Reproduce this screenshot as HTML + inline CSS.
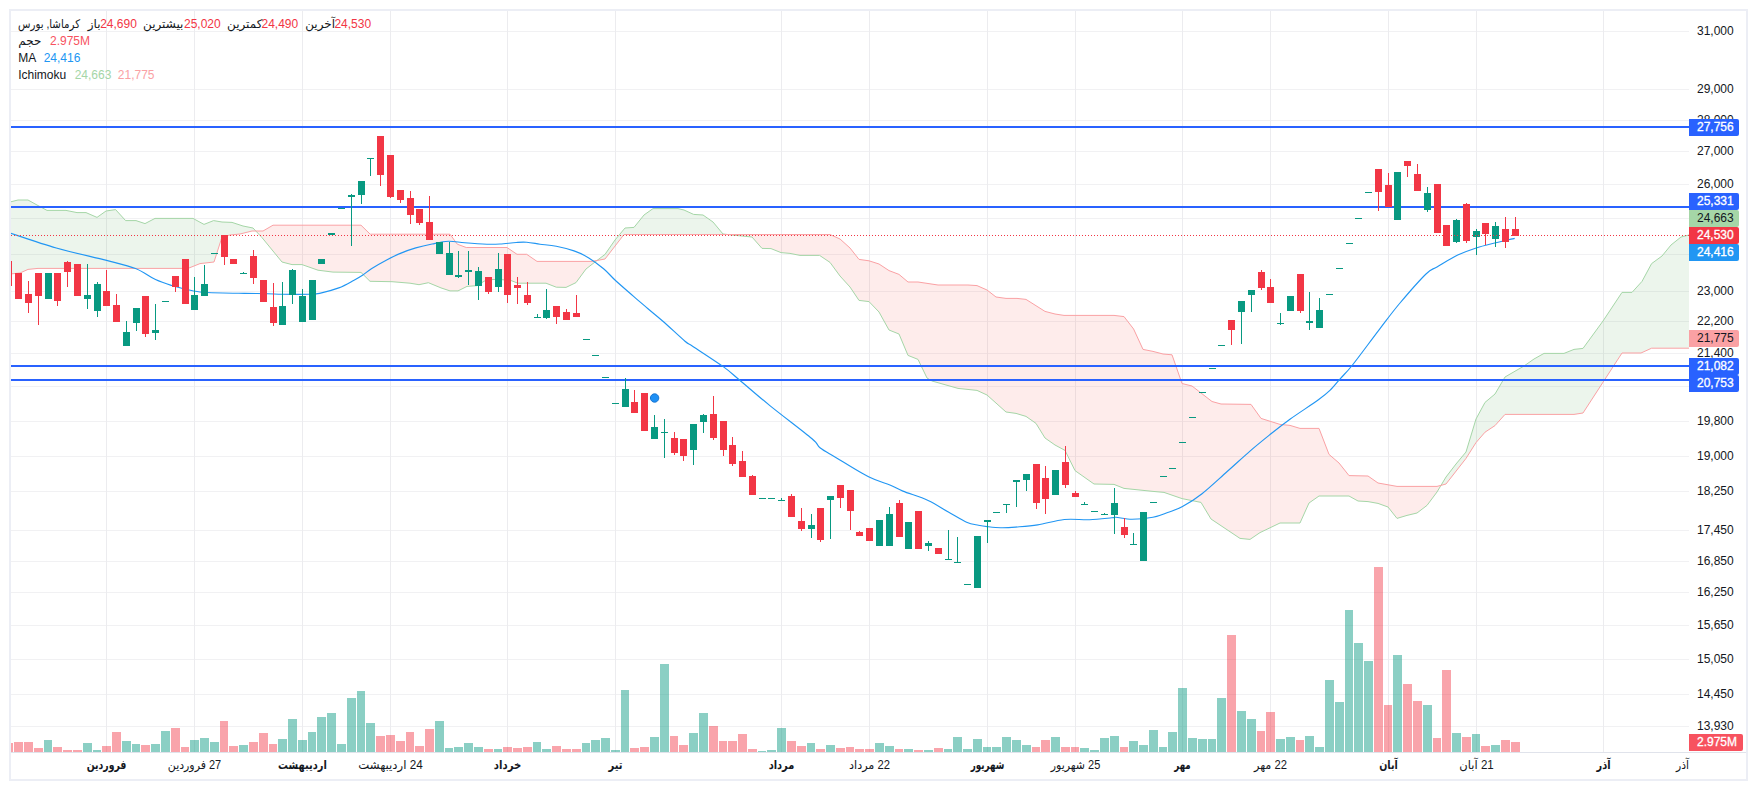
<!DOCTYPE html>
<html lang="fa"><head><meta charset="utf-8"><title>chart</title>
<style>
html,body{margin:0;padding:0;background:#fff;}
body{width:1757px;height:790px;position:relative;overflow:hidden;font-family:"Liberation Sans","DejaVu Sans",sans-serif;}
.lg{position:absolute;font-size:12px;line-height:14px;white-space:nowrap;transform-origin:0 50%;}
</style></head><body>
<svg width="1757" height="790" viewBox="0 0 1757 790" style="position:absolute;left:0;top:0">
<defs><clipPath id="pane"><rect x="11" y="11" width="1678" height="741"/></clipPath></defs>
<g shape-rendering="crispEdges" fill="#f1f1f3">
<rect x="11" y="31" width="1678" height="1"/>
<rect x="11" y="89" width="1678" height="1"/>
<rect x="11" y="120" width="1678" height="1"/>
<rect x="11" y="151" width="1678" height="1"/>
<rect x="11" y="184" width="1678" height="1"/>
<rect x="11" y="218" width="1678" height="1"/>
<rect x="11" y="254" width="1678" height="1"/>
<rect x="11" y="291" width="1678" height="1"/>
<rect x="11" y="321" width="1678" height="1"/>
<rect x="11" y="353" width="1678" height="1"/>
<rect x="11" y="386" width="1678" height="1"/>
<rect x="11" y="421" width="1678" height="1"/>
<rect x="11" y="456" width="1678" height="1"/>
<rect x="11" y="491" width="1678" height="1"/>
<rect x="11" y="530" width="1678" height="1"/>
<rect x="11" y="561" width="1678" height="1"/>
<rect x="11" y="592" width="1678" height="1"/>
<rect x="11" y="625" width="1678" height="1"/>
<rect x="11" y="659" width="1678" height="1"/>
<rect x="11" y="694" width="1678" height="1"/>
<rect x="11" y="726" width="1678" height="1"/>
<rect x="106" y="11" width="1" height="741" fill="#ececef"/>
<rect x="194" y="11" width="1" height="741" fill="#ececef"/>
<rect x="302" y="11" width="1" height="741" fill="#ececef"/>
<rect x="390" y="11" width="1" height="741" fill="#ececef"/>
<rect x="507" y="11" width="1" height="741" fill="#ececef"/>
<rect x="615" y="11" width="1" height="741" fill="#ececef"/>
<rect x="781" y="11" width="1" height="741" fill="#ececef"/>
<rect x="869" y="11" width="1" height="741" fill="#ececef"/>
<rect x="987" y="11" width="1" height="741" fill="#ececef"/>
<rect x="1075" y="11" width="1" height="741" fill="#ececef"/>
<rect x="1182" y="11" width="1" height="741" fill="#ececef"/>
<rect x="1270" y="11" width="1" height="741" fill="#ececef"/>
<rect x="1388" y="11" width="1" height="741" fill="#ececef"/>
<rect x="1476" y="11" width="1" height="741" fill="#ececef"/>
<rect x="1603" y="11" width="1" height="741" fill="#ececef"/>
</g>
<g clip-path="url(#pane)">
<path d="M10.0 202.0 L18.0 200.0 L20.0 200.0 L28.0 200.0 L37.0 205.0 L38.0 205.5 L47.0 210.4 L66.0 210.4 L77.0 212.6 L86.0 212.6 L97.0 217.4 L106.0 211.0 L115.6 209.6 L125.6 220.6 L136.0 220.6 L145.0 223.6 L155.0 218.4 L188.0 218.4 L193.0 218.4 L200.0 222.2 L204.0 224.4 L213.6 220.6 L214.0 220.7 L222.0 222.0 L230.0 222.3 L232.0 222.4 L240.0 225.0 L243.0 226.0 L252.0 227.8 L253.0 228.0 L255.8 231.0 L255.8 231.0 L253.0 231.0 L252.0 231.0 L243.0 233.2 L240.0 234.0 L232.0 234.8 L230.0 235.0 L222.0 237.0 L214.0 262.0 L213.6 262.0 L204.0 263.1 L200.0 263.6 L193.0 266.4 L188.0 268.4 L155.0 268.4 L145.0 268.4 L136.0 268.4 L125.6 268.4 L115.6 268.4 L106.0 268.4 L97.0 268.4 L86.0 268.4 L77.0 268.4 L66.0 268.4 L47.0 268.4 L38.0 268.4 L37.0 268.5 L28.0 269.4 L20.0 273.0 L18.0 273.2 L10.0 274.0Z" fill="rgba(67,160,71,0.1)"/>
<path d="M255.8 231.0 L262.0 237.6 L263.0 238.8 L273.0 251.0 L282.0 262.0 L292.0 264.6 L302.0 264.6 L318.0 270.2 L333.0 272.1 L361.0 272.4 L370.0 281.3 L370.2 281.3 L392.0 281.7 L410.0 283.2 L419.0 284.7 L428.4 282.7 L441.0 287.9 L450.0 290.9 L457.3 290.9 L458.0 290.9 L466.2 286.8 L467.0 286.4 L476.5 285.7 L485.4 280.5 L493.0 279.5 L500.0 279.5 L507.0 280.1 L511.0 280.5 L517.0 282.9 L517.8 283.2 L526.7 283.2 L537.0 283.2 L546.0 283.2 L556.3 287.2 L566.0 287.4 L576.0 282.6 L586.0 269.0 L592.0 264.3 L595.0 262.0 L597.0 260.5 L597.0 260.5 L595.0 260.8 L592.0 261.4 L586.0 261.4 L576.0 261.4 L566.0 261.4 L556.3 261.4 L546.0 261.4 L537.0 261.4 L526.7 254.3 L517.8 254.3 L517.0 254.3 L511.0 250.2 L507.0 247.5 L500.0 247.5 L493.0 247.5 L485.4 247.5 L476.5 247.5 L467.0 247.5 L466.2 247.5 L458.0 244.5 L457.3 244.2 L450.0 234.2 L441.0 234.2 L428.4 234.2 L419.0 234.2 L410.0 234.2 L392.0 234.2 L370.2 234.2 L370.0 234.0 L361.0 225.2 L333.0 225.2 L318.0 225.2 L302.0 225.2 L292.0 225.2 L282.0 225.2 L273.0 225.2 L263.0 231.0 L262.0 231.0 L255.8 231.0Z" fill="rgba(244,67,54,0.1)"/>
<path d="M597.0 260.5 L605.0 254.4 L615.0 240.0 L624.0 229.2 L625.0 228.0 L634.0 227.4 L644.0 215.0 L653.0 208.6 L678.0 208.6 L684.0 210.0 L693.6 214.4 L703.0 215.0 L713.0 222.0 L723.0 234.0 L727.5 234.5 L727.5 234.5 L723.0 234.5 L713.0 234.5 L703.0 234.5 L693.6 234.5 L684.0 234.5 L678.0 234.5 L653.0 234.5 L644.0 234.5 L634.0 234.5 L625.0 234.5 L624.0 234.5 L615.0 246.1 L605.0 259.0 L597.0 260.5Z" fill="rgba(67,160,71,0.1)"/>
<path d="M727.5 234.5 L732.0 235.0 L752.0 237.0 L762.0 248.4 L771.0 248.6 L781.0 252.6 L790.0 253.4 L800.0 255.4 L819.6 255.4 L830.0 262.4 L840.0 276.0 L850.0 287.0 L859.0 300.4 L869.0 301.6 L879.0 312.0 L889.0 330.0 L899.0 334.0 L908.0 355.4 L918.0 359.4 L927.0 378.0 L932.0 381.0 L938.0 382.7 L958.0 388.4 L968.0 389.5 L977.0 390.4 L987.0 395.0 L996.0 403.1 L1006.0 412.0 L1016.0 413.4 L1017.0 413.7 L1026.0 416.4 L1036.0 423.4 L1045.0 438.0 L1055.0 445.0 L1064.0 449.9 L1065.0 450.4 L1075.0 470.6 L1094.0 484.0 L1114.0 484.4 L1124.0 488.4 L1133.6 489.4 L1143.0 490.4 L1153.0 491.4 L1163.0 492.3 L1164.0 492.4 L1172.0 495.2 L1182.0 498.6 L1192.0 500.6 L1201.0 502.4 L1211.0 519.0 L1212.0 519.7 L1221.0 525.7 L1240.0 538.4 L1250.0 539.4 L1251.0 538.7 L1260.0 532.6 L1261.0 532.1 L1280.0 523.0 L1290.0 523.0 L1300.0 523.0 L1309.0 503.0 L1319.0 496.0 L1329.0 496.0 L1339.0 496.0 L1349.0 496.0 L1358.0 501.0 L1368.0 501.6 L1378.0 503.4 L1388.0 507.0 L1397.0 518.4 L1407.0 515.4 L1417.0 513.0 L1427.0 505.4 L1437.0 492.0 L1441.0 485.3 L1441.0 485.3 L1437.0 486.4 L1427.0 486.4 L1417.0 486.4 L1407.0 486.4 L1397.0 486.4 L1388.0 484.8 L1378.0 483.0 L1368.0 476.0 L1358.0 475.8 L1349.0 475.6 L1339.0 463.0 L1329.0 454.4 L1319.0 428.4 L1309.0 428.4 L1300.0 428.4 L1290.0 425.4 L1280.0 424.4 L1261.0 418.4 L1260.0 417.0 L1251.0 404.4 L1250.0 404.4 L1240.0 404.3 L1221.0 404.0 L1212.0 401.5 L1211.0 400.7 L1201.0 393.0 L1192.0 386.0 L1182.0 383.5 L1172.0 354.8 L1164.0 354.1 L1163.0 354.0 L1153.0 351.4 L1143.0 349.4 L1133.6 329.0 L1124.0 316.6 L1114.0 315.4 L1094.0 315.4 L1075.0 315.4 L1065.0 315.4 L1064.0 315.4 L1055.0 314.0 L1045.0 311.4 L1036.0 305.7 L1026.0 299.4 L1017.0 298.4 L1016.0 298.4 L1006.0 298.4 L996.0 297.0 L987.0 290.0 L977.0 285.6 L968.0 285.0 L958.0 285.0 L938.0 285.0 L932.0 284.1 L927.0 283.4 L918.0 282.0 L908.0 282.0 L899.0 274.4 L889.0 270.6 L879.0 264.0 L869.0 260.8 L859.0 259.4 L850.0 248.0 L840.0 239.0 L830.0 234.5 L819.6 234.5 L800.0 234.5 L790.0 234.5 L781.0 234.5 L771.0 234.5 L762.0 234.5 L752.0 234.5 L732.0 234.5 L727.5 234.5Z" fill="rgba(244,67,54,0.1)"/>
<path d="M1441.0 485.3 L1446.0 477.0 L1456.0 464.0 L1466.0 452.0 L1476.0 419.0 L1485.0 402.4 L1495.0 394.0 L1505.0 377.0 L1524.0 366.0 L1534.0 359.0 L1544.0 353.4 L1564.0 353.4 L1574.0 349.4 L1583.0 348.4 L1603.0 321.0 L1622.0 292.4 L1632.0 292.4 L1641.0 282.5 L1642.0 281.4 L1651.6 263.6 L1662.0 256.0 L1671.0 245.0 L1681.0 237.0 L1689.0 235.0 L1689.0 348.2 L1681.0 348.2 L1671.0 348.2 L1662.0 348.2 L1651.6 348.2 L1642.0 352.5 L1641.0 353.0 L1632.0 353.0 L1622.0 353.0 L1603.0 382.2 L1583.0 413.0 L1574.0 414.4 L1564.0 414.4 L1544.0 414.4 L1534.0 414.4 L1524.0 414.4 L1505.0 414.4 L1495.0 425.6 L1485.0 432.2 L1476.0 442.6 L1466.0 458.4 L1456.0 471.2 L1446.0 484.0 L1441.0 485.3Z" fill="rgba(67,160,71,0.1)"/>
<polyline fill="none" stroke="#a5d6a7" stroke-width="1" stroke-linejoin="round" points="10.0,202.0 18.0,200.0 28.0,200.0 37.0,205.0 47.0,210.4 66.0,210.4 77.0,212.6 86.0,212.6 97.0,217.4 106.0,211.0 115.6,209.6 125.6,220.6 136.0,220.6 145.0,223.6 155.0,218.4 193.0,218.4 204.0,224.4 213.6,220.6 222.0,222.0 232.0,222.4 243.0,226.0 253.0,228.0 262.0,237.6 282.0,262.0 292.0,264.6 302.0,264.6 318.0,270.2 333.0,272.1 361.0,272.4 370.0,281.3 392.0,281.7 410.0,283.2 419.0,284.7 428.4,282.7 441.0,287.9 450.0,290.9 458.0,290.9 467.0,286.4 476.5,285.7 485.4,280.5 493.0,279.5 500.0,279.5 511.0,280.5 517.8,283.2 546.0,283.2 556.3,287.2 566.0,287.4 576.0,282.6 586.0,269.0 595.0,262.0 605.0,254.4 615.0,240.0 625.0,228.0 634.0,227.4 644.0,215.0 653.0,208.6 678.0,208.6 684.0,210.0 693.6,214.4 703.0,215.0 713.0,222.0 723.0,234.0 732.0,235.0 752.0,237.0 762.0,248.4 771.0,248.6 781.0,252.6 790.0,253.4 800.0,255.4 819.6,255.4 830.0,262.4 840.0,276.0 850.0,287.0 859.0,300.4 869.0,301.6 879.0,312.0 889.0,330.0 899.0,334.0 908.0,355.4 918.0,359.4 927.0,378.0 932.0,381.0 958.0,388.4 977.0,390.4 987.0,395.0 1006.0,412.0 1016.0,413.4 1026.0,416.4 1036.0,423.4 1045.0,438.0 1055.0,445.0 1065.0,450.4 1075.0,470.6 1094.0,484.0 1114.0,484.4 1124.0,488.4 1153.0,491.4 1164.0,492.4 1182.0,498.6 1201.0,502.4 1211.0,519.0 1240.0,538.4 1250.0,539.4 1260.0,532.6 1280.0,523.0 1300.0,523.0 1309.0,503.0 1319.0,496.0 1349.0,496.0 1358.0,501.0 1368.0,501.6 1378.0,503.4 1388.0,507.0 1397.0,518.4 1407.0,515.4 1417.0,513.0 1427.0,505.4 1437.0,492.0 1446.0,477.0 1456.0,464.0 1466.0,452.0 1476.0,419.0 1485.0,402.4 1495.0,394.0 1505.0,377.0 1524.0,366.0 1534.0,359.0 1544.0,353.4 1564.0,353.4 1574.0,349.4 1583.0,348.4 1603.0,321.0 1622.0,292.4 1632.0,292.4 1642.0,281.4 1651.6,263.6 1662.0,256.0 1671.0,245.0 1681.0,237.0 1689.0,235.0"/>
<polyline fill="none" stroke="#faa1a4" stroke-width="1" stroke-linejoin="round" points="10.0,274.0 20.0,273.0 28.0,269.4 38.0,268.4 188.0,268.4 200.0,263.6 214.0,262.0 222.0,237.0 230.0,235.0 240.0,234.0 252.0,231.0 263.0,231.0 273.0,225.2 361.0,225.2 370.2,234.2 450.0,234.2 457.3,244.2 466.2,247.5 507.0,247.5 517.0,254.3 526.7,254.3 537.0,261.4 592.0,261.4 605.0,259.0 624.0,234.5 830.0,234.5 840.0,239.0 850.0,248.0 859.0,259.4 869.0,260.8 879.0,264.0 889.0,270.6 899.0,274.4 908.0,282.0 918.0,282.0 938.0,285.0 968.0,285.0 977.0,285.6 987.0,290.0 996.0,297.0 1006.0,298.4 1017.0,298.4 1026.0,299.4 1045.0,311.4 1055.0,314.0 1064.0,315.4 1114.0,315.4 1124.0,316.6 1133.6,329.0 1143.0,349.4 1153.0,351.4 1163.0,354.0 1172.0,354.8 1182.0,383.5 1192.0,386.0 1212.0,401.5 1221.0,404.0 1251.0,404.4 1261.0,418.4 1280.0,424.4 1290.0,425.4 1300.0,428.4 1319.0,428.4 1329.0,454.4 1339.0,463.0 1349.0,475.6 1368.0,476.0 1378.0,483.0 1397.0,486.4 1437.0,486.4 1446.0,484.0 1466.0,458.4 1476.0,442.6 1485.0,432.2 1495.0,425.6 1505.0,414.4 1574.0,414.4 1583.0,413.0 1622.0,353.0 1641.0,353.0 1651.6,348.2 1689.0,348.2"/>
<g shape-rendering="crispEdges">
<rect x="4" y="743" width="9" height="9" fill="rgba(242,54,69,0.45)"/>
<rect x="14" y="742" width="9" height="10" fill="rgba(242,54,69,0.45)"/>
<rect x="24" y="742" width="9" height="10" fill="rgba(242,54,69,0.45)"/>
<rect x="34" y="748" width="9" height="4" fill="rgba(242,54,69,0.45)"/>
<rect x="44" y="740" width="8" height="12" fill="rgba(8,153,129,0.47)"/>
<rect x="53" y="747" width="9" height="5" fill="rgba(242,54,69,0.45)"/>
<rect x="63" y="750" width="9" height="2" fill="rgba(242,54,69,0.45)"/>
<rect x="73" y="750" width="9" height="2" fill="rgba(242,54,69,0.45)"/>
<rect x="83" y="743" width="9" height="9" fill="rgba(8,153,129,0.47)"/>
<rect x="93" y="750" width="8" height="2" fill="rgba(8,153,129,0.47)"/>
<rect x="102" y="746" width="9" height="6" fill="rgba(242,54,69,0.45)"/>
<rect x="112" y="732" width="9" height="20" fill="rgba(242,54,69,0.45)"/>
<rect x="122" y="741" width="9" height="11" fill="rgba(8,153,129,0.47)"/>
<rect x="132" y="744" width="8" height="8" fill="rgba(8,153,129,0.47)"/>
<rect x="141" y="745" width="9" height="7" fill="rgba(242,54,69,0.45)"/>
<rect x="151" y="744" width="9" height="8" fill="rgba(8,153,129,0.47)"/>
<rect x="161" y="731" width="9" height="21" fill="rgba(8,153,129,0.47)"/>
<rect x="171" y="728" width="9" height="24" fill="rgba(242,54,69,0.45)"/>
<rect x="181" y="747" width="8" height="5" fill="rgba(242,54,69,0.45)"/>
<rect x="190" y="740" width="9" height="12" fill="rgba(8,153,129,0.47)"/>
<rect x="200" y="738" width="9" height="14" fill="rgba(8,153,129,0.47)"/>
<rect x="210" y="742" width="9" height="10" fill="rgba(8,153,129,0.47)"/>
<rect x="220" y="721" width="8" height="31" fill="rgba(242,54,69,0.45)"/>
<rect x="229" y="746" width="9" height="6" fill="rgba(242,54,69,0.45)"/>
<rect x="239" y="745" width="9" height="7" fill="rgba(8,153,129,0.47)"/>
<rect x="249" y="742" width="9" height="10" fill="rgba(242,54,69,0.45)"/>
<rect x="259" y="733" width="9" height="19" fill="rgba(242,54,69,0.45)"/>
<rect x="269" y="744" width="8" height="8" fill="rgba(242,54,69,0.45)"/>
<rect x="278" y="739" width="9" height="13" fill="rgba(8,153,129,0.47)"/>
<rect x="288" y="719" width="9" height="33" fill="rgba(8,153,129,0.47)"/>
<rect x="298" y="740" width="9" height="12" fill="rgba(8,153,129,0.47)"/>
<rect x="308" y="732" width="8" height="20" fill="rgba(8,153,129,0.47)"/>
<rect x="317" y="717" width="9" height="35" fill="rgba(8,153,129,0.47)"/>
<rect x="327" y="713" width="9" height="39" fill="rgba(8,153,129,0.47)"/>
<rect x="337" y="744" width="9" height="8" fill="rgba(8,153,129,0.47)"/>
<rect x="347" y="698" width="9" height="54" fill="rgba(8,153,129,0.47)"/>
<rect x="357" y="691" width="8" height="61" fill="rgba(8,153,129,0.47)"/>
<rect x="366" y="723" width="9" height="29" fill="rgba(8,153,129,0.47)"/>
<rect x="376" y="736" width="9" height="16" fill="rgba(242,54,69,0.45)"/>
<rect x="386" y="735" width="9" height="17" fill="rgba(242,54,69,0.45)"/>
<rect x="396" y="741" width="9" height="11" fill="rgba(242,54,69,0.45)"/>
<rect x="406" y="732" width="8" height="20" fill="rgba(242,54,69,0.45)"/>
<rect x="415" y="746" width="9" height="6" fill="rgba(242,54,69,0.45)"/>
<rect x="425" y="729" width="9" height="23" fill="rgba(242,54,69,0.45)"/>
<rect x="435" y="721" width="9" height="31" fill="rgba(8,153,129,0.47)"/>
<rect x="445" y="748" width="8" height="4" fill="rgba(8,153,129,0.47)"/>
<rect x="454" y="747" width="9" height="5" fill="rgba(8,153,129,0.47)"/>
<rect x="464" y="743" width="9" height="9" fill="rgba(8,153,129,0.47)"/>
<rect x="474" y="747" width="9" height="5" fill="rgba(8,153,129,0.47)"/>
<rect x="484" y="749" width="9" height="3" fill="rgba(242,54,69,0.45)"/>
<rect x="494" y="749" width="8" height="3" fill="rgba(8,153,129,0.47)"/>
<rect x="503" y="747" width="9" height="5" fill="rgba(242,54,69,0.45)"/>
<rect x="513" y="748" width="9" height="4" fill="rgba(242,54,69,0.45)"/>
<rect x="523" y="747" width="9" height="5" fill="rgba(242,54,69,0.45)"/>
<rect x="533" y="742" width="8" height="10" fill="rgba(8,153,129,0.47)"/>
<rect x="542" y="749" width="9" height="3" fill="rgba(8,153,129,0.47)"/>
<rect x="552" y="746" width="9" height="6" fill="rgba(242,54,69,0.45)"/>
<rect x="562" y="749" width="9" height="3" fill="rgba(242,54,69,0.45)"/>
<rect x="572" y="749" width="9" height="3" fill="rgba(242,54,69,0.45)"/>
<rect x="582" y="743" width="8" height="9" fill="rgba(8,153,129,0.47)"/>
<rect x="591" y="740" width="9" height="12" fill="rgba(8,153,129,0.47)"/>
<rect x="601" y="738" width="9" height="14" fill="rgba(8,153,129,0.47)"/>
<rect x="611" y="750" width="9" height="2" fill="rgba(8,153,129,0.47)"/>
<rect x="621" y="690" width="8" height="62" fill="rgba(8,153,129,0.47)"/>
<rect x="630" y="748" width="9" height="4" fill="rgba(242,54,69,0.45)"/>
<rect x="640" y="747" width="9" height="5" fill="rgba(242,54,69,0.45)"/>
<rect x="650" y="737" width="9" height="15" fill="rgba(8,153,129,0.47)"/>
<rect x="660" y="664" width="9" height="88" fill="rgba(8,153,129,0.47)"/>
<rect x="670" y="736" width="8" height="16" fill="rgba(242,54,69,0.45)"/>
<rect x="679" y="745" width="9" height="7" fill="rgba(242,54,69,0.45)"/>
<rect x="689" y="733" width="9" height="19" fill="rgba(8,153,129,0.47)"/>
<rect x="699" y="713" width="9" height="39" fill="rgba(8,153,129,0.47)"/>
<rect x="709" y="726" width="9" height="26" fill="rgba(242,54,69,0.45)"/>
<rect x="719" y="741" width="8" height="11" fill="rgba(242,54,69,0.45)"/>
<rect x="728" y="741" width="9" height="11" fill="rgba(242,54,69,0.45)"/>
<rect x="738" y="734" width="9" height="18" fill="rgba(242,54,69,0.45)"/>
<rect x="748" y="749" width="9" height="3" fill="rgba(242,54,69,0.45)"/>
<rect x="758" y="751" width="8" height="1" fill="rgba(8,153,129,0.47)"/>
<rect x="767" y="750" width="9" height="2" fill="rgba(8,153,129,0.47)"/>
<rect x="777" y="728" width="9" height="24" fill="rgba(8,153,129,0.47)"/>
<rect x="787" y="741" width="9" height="11" fill="rgba(242,54,69,0.45)"/>
<rect x="797" y="746" width="9" height="6" fill="rgba(242,54,69,0.45)"/>
<rect x="807" y="743" width="8" height="9" fill="rgba(8,153,129,0.47)"/>
<rect x="816" y="749" width="9" height="3" fill="rgba(242,54,69,0.45)"/>
<rect x="826" y="745" width="9" height="7" fill="rgba(8,153,129,0.47)"/>
<rect x="836" y="748" width="9" height="4" fill="rgba(242,54,69,0.45)"/>
<rect x="846" y="747" width="8" height="5" fill="rgba(242,54,69,0.45)"/>
<rect x="855" y="749" width="9" height="3" fill="rgba(242,54,69,0.45)"/>
<rect x="865" y="749" width="9" height="3" fill="rgba(242,54,69,0.45)"/>
<rect x="875" y="743" width="9" height="9" fill="rgba(8,153,129,0.47)"/>
<rect x="885" y="746" width="9" height="6" fill="rgba(8,153,129,0.47)"/>
<rect x="895" y="749" width="8" height="3" fill="rgba(242,54,69,0.45)"/>
<rect x="904" y="749" width="9" height="3" fill="rgba(8,153,129,0.47)"/>
<rect x="914" y="750" width="9" height="2" fill="rgba(242,54,69,0.45)"/>
<rect x="924" y="750" width="9" height="2" fill="rgba(8,153,129,0.47)"/>
<rect x="934" y="748" width="9" height="4" fill="rgba(242,54,69,0.45)"/>
<rect x="944" y="749" width="8" height="3" fill="rgba(8,153,129,0.47)"/>
<rect x="953" y="737" width="9" height="15" fill="rgba(8,153,129,0.47)"/>
<rect x="963" y="749" width="9" height="3" fill="rgba(8,153,129,0.47)"/>
<rect x="973" y="739" width="9" height="13" fill="rgba(8,153,129,0.47)"/>
<rect x="983" y="747" width="8" height="5" fill="rgba(8,153,129,0.47)"/>
<rect x="992" y="747" width="9" height="5" fill="rgba(8,153,129,0.47)"/>
<rect x="1002" y="737" width="9" height="15" fill="rgba(8,153,129,0.47)"/>
<rect x="1012" y="740" width="9" height="12" fill="rgba(8,153,129,0.47)"/>
<rect x="1022" y="745" width="9" height="7" fill="rgba(8,153,129,0.47)"/>
<rect x="1032" y="747" width="8" height="5" fill="rgba(242,54,69,0.45)"/>
<rect x="1041" y="740" width="9" height="12" fill="rgba(242,54,69,0.45)"/>
<rect x="1051" y="737" width="9" height="15" fill="rgba(8,153,129,0.47)"/>
<rect x="1061" y="747" width="9" height="5" fill="rgba(242,54,69,0.45)"/>
<rect x="1071" y="747" width="8" height="5" fill="rgba(242,54,69,0.45)"/>
<rect x="1080" y="748" width="9" height="4" fill="rgba(8,153,129,0.47)"/>
<rect x="1090" y="750" width="9" height="2" fill="rgba(8,153,129,0.47)"/>
<rect x="1100" y="738" width="9" height="14" fill="rgba(8,153,129,0.47)"/>
<rect x="1110" y="736" width="9" height="16" fill="rgba(8,153,129,0.47)"/>
<rect x="1120" y="747" width="8" height="5" fill="rgba(242,54,69,0.45)"/>
<rect x="1129" y="741" width="9" height="11" fill="rgba(8,153,129,0.47)"/>
<rect x="1139" y="745" width="9" height="7" fill="rgba(8,153,129,0.47)"/>
<rect x="1149" y="730" width="9" height="22" fill="rgba(8,153,129,0.47)"/>
<rect x="1159" y="747" width="8" height="5" fill="rgba(8,153,129,0.47)"/>
<rect x="1168" y="732" width="9" height="20" fill="rgba(8,153,129,0.47)"/>
<rect x="1178" y="688" width="9" height="64" fill="rgba(8,153,129,0.47)"/>
<rect x="1188" y="738" width="9" height="14" fill="rgba(8,153,129,0.47)"/>
<rect x="1198" y="739" width="9" height="13" fill="rgba(8,153,129,0.47)"/>
<rect x="1208" y="739" width="8" height="13" fill="rgba(8,153,129,0.47)"/>
<rect x="1217" y="698" width="9" height="54" fill="rgba(8,153,129,0.47)"/>
<rect x="1227" y="635" width="9" height="117" fill="rgba(242,54,69,0.45)"/>
<rect x="1237" y="711" width="9" height="41" fill="rgba(8,153,129,0.47)"/>
<rect x="1247" y="719" width="9" height="33" fill="rgba(8,153,129,0.47)"/>
<rect x="1257" y="731" width="8" height="21" fill="rgba(242,54,69,0.45)"/>
<rect x="1266" y="712" width="9" height="40" fill="rgba(242,54,69,0.45)"/>
<rect x="1276" y="739" width="9" height="13" fill="rgba(8,153,129,0.47)"/>
<rect x="1286" y="737" width="9" height="15" fill="rgba(8,153,129,0.47)"/>
<rect x="1296" y="740" width="8" height="12" fill="rgba(242,54,69,0.45)"/>
<rect x="1305" y="736" width="9" height="16" fill="rgba(8,153,129,0.47)"/>
<rect x="1315" y="747" width="9" height="5" fill="rgba(8,153,129,0.47)"/>
<rect x="1325" y="680" width="9" height="72" fill="rgba(8,153,129,0.47)"/>
<rect x="1335" y="702" width="9" height="50" fill="rgba(8,153,129,0.47)"/>
<rect x="1345" y="610" width="8" height="142" fill="rgba(8,153,129,0.47)"/>
<rect x="1354" y="643" width="9" height="109" fill="rgba(8,153,129,0.47)"/>
<rect x="1364" y="661" width="9" height="91" fill="rgba(8,153,129,0.47)"/>
<rect x="1374" y="567" width="9" height="185" fill="rgba(242,54,69,0.45)"/>
<rect x="1384" y="705" width="8" height="47" fill="rgba(242,54,69,0.45)"/>
<rect x="1393" y="655" width="9" height="97" fill="rgba(8,153,129,0.47)"/>
<rect x="1403" y="684" width="9" height="68" fill="rgba(242,54,69,0.45)"/>
<rect x="1413" y="701" width="9" height="51" fill="rgba(242,54,69,0.45)"/>
<rect x="1423" y="705" width="9" height="47" fill="rgba(8,153,129,0.47)"/>
<rect x="1433" y="738" width="8" height="14" fill="rgba(242,54,69,0.45)"/>
<rect x="1442" y="670" width="9" height="82" fill="rgba(242,54,69,0.45)"/>
<rect x="1452" y="733" width="9" height="19" fill="rgba(8,153,129,0.47)"/>
<rect x="1462" y="737" width="9" height="15" fill="rgba(242,54,69,0.45)"/>
<rect x="1472" y="734" width="8" height="18" fill="rgba(8,153,129,0.47)"/>
<rect x="1481" y="746" width="9" height="6" fill="rgba(242,54,69,0.45)"/>
<rect x="1491" y="745" width="9" height="7" fill="rgba(8,153,129,0.47)"/>
<rect x="1501" y="740" width="9" height="12" fill="rgba(242,54,69,0.45)"/>
<rect x="1511" y="742" width="9" height="10" fill="rgba(242,54,69,0.45)"/>
</g>
<rect x="11" y="126" width="1678" height="2" fill="#2962ff" shape-rendering="crispEdges"/>
<rect x="11" y="206" width="1678" height="2" fill="#2962ff" shape-rendering="crispEdges"/>
<rect x="11" y="365" width="1678" height="2" fill="#2962ff" shape-rendering="crispEdges"/>
<rect x="11" y="379" width="1678" height="2" fill="#2962ff" shape-rendering="crispEdges"/>
<path fill="none" stroke="#2196f3" stroke-width="1.15" stroke-linejoin="round" d="M10.0 233.0 C17.7 235.5 40.2 243.4 56.3 248.0 C72.4 252.6 93.4 257.0 106.6 260.4 C119.8 263.8 127.3 265.3 135.5 268.5 C143.7 271.7 149.5 276.8 155.5 279.6 C161.5 282.4 165.5 283.6 171.7 285.5 C177.9 287.4 186.6 289.5 192.5 290.7 C198.4 291.9 198.7 292.1 207.3 292.5 C215.9 292.9 234.2 293.2 244.3 293.4 C254.4 293.6 261.4 293.5 267.8 293.7 C274.2 293.9 275.7 294.2 282.6 294.3 C289.5 294.4 303.0 294.5 309.2 294.3 C315.4 294.1 314.7 294.5 319.6 293.4 C324.5 292.3 333.1 290.0 338.8 287.9 C344.5 285.8 349.7 282.6 353.6 280.5 C357.6 278.4 359.5 277.3 362.5 275.3 C365.5 273.3 367.4 271.2 371.4 268.7 C375.3 266.2 381.3 262.8 386.2 260.2 C391.1 257.6 396.1 255.1 401.0 253.1 C405.9 251.1 410.6 249.4 415.8 247.9 C421.0 246.4 426.7 245.1 432.1 244.0 C437.5 242.9 443.0 241.5 448.4 241.3 C453.8 241.1 458.3 242.3 464.7 242.8 C471.1 243.3 481.0 244.0 486.9 244.2 C492.8 244.4 495.1 244.3 500.0 244.0 C504.9 243.7 511.8 242.8 516.3 242.5 C520.8 242.2 522.8 242.0 526.7 242.3 C530.7 242.6 535.1 243.5 540.0 244.2 C544.9 244.8 550.6 245.1 556.3 246.2 C562.0 247.3 568.6 249.0 574.0 250.9 C579.4 252.8 583.9 254.9 588.8 257.9 C593.7 260.9 599.1 264.9 603.6 268.7 C608.1 272.5 610.5 275.9 615.5 280.5 C620.5 285.1 627.9 291.4 633.3 296.1 C638.7 300.8 643.1 304.5 648.0 308.7 C652.9 312.9 656.7 315.8 662.9 321.2 C669.1 326.6 679.9 336.9 685.0 341.2 C690.1 345.4 687.0 342.5 693.3 346.7 C699.6 350.9 715.2 360.9 722.9 366.4 C730.5 371.9 731.3 373.1 739.2 379.7 C747.1 386.3 758.1 396.1 770.2 405.9 C782.3 415.7 803.4 431.5 811.7 438.5 C820.1 445.5 816.1 444.8 820.3 448.0 C824.4 451.2 828.5 453.0 836.6 457.9 C844.7 462.8 860.2 472.6 869.1 477.1 C878.0 481.6 884.3 482.7 889.9 485.0 C895.5 487.3 896.5 488.5 902.9 491.1 C909.3 493.7 920.5 496.9 928.1 500.4 C935.8 503.9 942.4 508.7 948.8 512.3 C955.2 515.9 961.7 520.1 966.6 522.2 C971.5 524.4 975.0 524.5 978.4 525.2 C981.8 525.9 983.6 526.2 987.3 526.6 C991.0 527.0 996.0 527.6 1000.7 527.7 C1005.4 527.8 1009.3 527.6 1015.5 527.1 C1021.7 526.6 1029.6 526.2 1037.7 524.9 C1045.8 523.6 1055.7 520.4 1064.3 519.5 C1072.9 518.6 1081.6 520.0 1089.5 519.7 C1097.4 519.4 1107.3 518.2 1111.7 517.8 C1116.1 517.4 1112.5 517.1 1115.9 517.3 C1119.3 517.5 1125.9 519.2 1132.1 519.2 C1138.3 519.2 1147.0 518.4 1152.9 517.3 C1158.8 516.2 1162.8 514.3 1167.7 512.5 C1172.6 510.7 1176.8 509.7 1182.5 506.6 C1188.2 503.5 1194.3 499.8 1201.7 494.0 C1209.1 488.2 1218.9 478.9 1226.9 471.8 C1235.0 464.7 1242.7 457.4 1250.0 451.1 C1257.3 444.8 1264.3 439.2 1271.0 433.8 C1277.7 428.4 1282.4 424.7 1290.3 419.0 C1298.2 413.3 1311.8 404.6 1318.4 399.8 C1325.1 395.0 1326.5 393.8 1330.2 390.2 C1333.9 386.6 1336.9 382.5 1340.6 378.3 C1344.3 374.1 1345.9 373.3 1352.5 365.0 C1359.1 356.7 1372.1 338.9 1380.0 328.6 C1387.9 318.3 1392.3 312.1 1400.0 303.0 C1407.7 293.9 1419.8 280.0 1426.0 274.0 C1432.2 268.0 1431.7 270.1 1437.0 267.0 C1442.3 263.9 1451.0 258.3 1457.7 255.1 C1464.4 251.9 1470.7 249.7 1476.9 247.7 C1483.1 245.7 1488.4 244.6 1494.7 243.0 C1501.0 241.4 1511.4 239.2 1514.7 238.4"/>
<g shape-rendering="crispEdges">
<rect x="5" y="261" width="7" height="25" fill="#f23645"/>
<rect x="15" y="273" width="7" height="26" fill="#f23645"/>
<rect x="28" y="281" width="1" height="32" fill="#f23645"/>
<rect x="25" y="294" width="7" height="9" fill="#f23645"/>
<rect x="38" y="273" width="1" height="52" fill="#f23645"/>
<rect x="35" y="273" width="7" height="23" fill="#f23645"/>
<rect x="45" y="273" width="7" height="26" fill="#089981"/>
<rect x="57" y="273" width="1" height="33" fill="#f23645"/>
<rect x="54" y="273" width="7" height="28" fill="#f23645"/>
<rect x="67" y="261" width="1" height="26" fill="#f23645"/>
<rect x="64" y="262" width="7" height="10" fill="#f23645"/>
<rect x="74" y="264" width="7" height="32" fill="#f23645"/>
<rect x="87" y="264" width="1" height="45" fill="#089981"/>
<rect x="84" y="295" width="7" height="4" fill="#089981"/>
<rect x="97" y="282" width="1" height="35" fill="#089981"/>
<rect x="94" y="284" width="7" height="27" fill="#089981"/>
<rect x="106" y="270" width="1" height="36" fill="#f23645"/>
<rect x="103" y="291" width="7" height="15" fill="#f23645"/>
<rect x="116" y="294" width="1" height="28" fill="#f23645"/>
<rect x="113" y="305" width="7" height="17" fill="#f23645"/>
<rect x="126" y="321" width="1" height="25" fill="#089981"/>
<rect x="123" y="332" width="7" height="14" fill="#089981"/>
<rect x="136" y="308" width="1" height="23" fill="#089981"/>
<rect x="133" y="308" width="7" height="15" fill="#089981"/>
<rect x="145" y="296" width="1" height="41" fill="#f23645"/>
<rect x="142" y="296" width="7" height="38" fill="#f23645"/>
<rect x="155" y="304" width="1" height="36" fill="#089981"/>
<rect x="152" y="330" width="7" height="3" fill="#089981"/>
<rect x="162" y="301" width="7" height="1" fill="#089981"/>
<rect x="175" y="276" width="1" height="16" fill="#f23645"/>
<rect x="172" y="276" width="7" height="11" fill="#f23645"/>
<rect x="182" y="259" width="7" height="45" fill="#f23645"/>
<rect x="194" y="277" width="1" height="33" fill="#089981"/>
<rect x="191" y="295" width="7" height="15" fill="#089981"/>
<rect x="204" y="265" width="1" height="31" fill="#089981"/>
<rect x="201" y="284" width="7" height="12" fill="#089981"/>
<rect x="211" y="253" width="7" height="1" fill="#089981"/>
<rect x="224" y="235" width="1" height="30" fill="#f23645"/>
<rect x="221" y="235" width="7" height="22" fill="#f23645"/>
<rect x="230" y="259" width="7" height="5" fill="#f23645"/>
<rect x="243" y="272" width="1" height="2" fill="#089981"/>
<rect x="240" y="273" width="7" height="1" fill="#089981"/>
<rect x="253" y="250" width="1" height="34" fill="#f23645"/>
<rect x="250" y="256" width="7" height="22" fill="#f23645"/>
<rect x="260" y="280" width="7" height="22" fill="#f23645"/>
<rect x="273" y="283" width="1" height="43" fill="#f23645"/>
<rect x="270" y="307" width="7" height="16" fill="#f23645"/>
<rect x="282" y="282" width="1" height="43" fill="#089981"/>
<rect x="279" y="306" width="7" height="19" fill="#089981"/>
<rect x="292" y="269" width="1" height="35" fill="#089981"/>
<rect x="289" y="270" width="7" height="25" fill="#089981"/>
<rect x="302" y="289" width="1" height="33" fill="#089981"/>
<rect x="299" y="296" width="7" height="26" fill="#089981"/>
<rect x="309" y="280" width="7" height="40" fill="#089981"/>
<rect x="318" y="259" width="7" height="5" fill="#089981"/>
<rect x="328" y="233" width="7" height="2" fill="#089981"/>
<rect x="338" y="208" width="7" height="1" fill="#089981"/>
<rect x="351" y="194" width="1" height="52" fill="#089981"/>
<rect x="348" y="195" width="7" height="2" fill="#089981"/>
<rect x="361" y="181" width="1" height="23" fill="#089981"/>
<rect x="358" y="181" width="7" height="14" fill="#089981"/>
<rect x="370" y="158" width="1" height="18" fill="#089981"/>
<rect x="367" y="158" width="7" height="1" fill="#089981"/>
<rect x="380" y="136" width="1" height="50" fill="#f23645"/>
<rect x="377" y="136" width="7" height="39" fill="#f23645"/>
<rect x="390" y="155" width="1" height="43" fill="#f23645"/>
<rect x="387" y="155" width="7" height="42" fill="#f23645"/>
<rect x="400" y="190" width="1" height="13" fill="#f23645"/>
<rect x="397" y="190" width="7" height="10" fill="#f23645"/>
<rect x="410" y="191" width="1" height="33" fill="#f23645"/>
<rect x="407" y="198" width="7" height="17" fill="#f23645"/>
<rect x="419" y="209" width="1" height="16" fill="#f23645"/>
<rect x="416" y="209" width="7" height="14" fill="#f23645"/>
<rect x="429" y="196" width="1" height="44" fill="#f23645"/>
<rect x="426" y="222" width="7" height="18" fill="#f23645"/>
<rect x="436" y="242" width="7" height="12" fill="#089981"/>
<rect x="449" y="242" width="1" height="33" fill="#089981"/>
<rect x="446" y="253" width="7" height="22" fill="#089981"/>
<rect x="458" y="251" width="1" height="27" fill="#089981"/>
<rect x="455" y="275" width="7" height="2" fill="#089981"/>
<rect x="468" y="251" width="1" height="34" fill="#089981"/>
<rect x="465" y="270" width="7" height="2" fill="#089981"/>
<rect x="478" y="267" width="1" height="33" fill="#089981"/>
<rect x="475" y="271" width="7" height="15" fill="#089981"/>
<rect x="488" y="277" width="1" height="17" fill="#f23645"/>
<rect x="485" y="277" width="7" height="15" fill="#f23645"/>
<rect x="498" y="253" width="1" height="39" fill="#089981"/>
<rect x="495" y="269" width="7" height="18" fill="#089981"/>
<rect x="507" y="254" width="1" height="49" fill="#f23645"/>
<rect x="504" y="254" width="7" height="41" fill="#f23645"/>
<rect x="517" y="277" width="1" height="27" fill="#f23645"/>
<rect x="514" y="285" width="7" height="3" fill="#f23645"/>
<rect x="527" y="282" width="1" height="23" fill="#f23645"/>
<rect x="524" y="295" width="7" height="8" fill="#f23645"/>
<rect x="537" y="314" width="1" height="4" fill="#089981"/>
<rect x="534" y="317" width="7" height="1" fill="#089981"/>
<rect x="546" y="289" width="1" height="30" fill="#089981"/>
<rect x="543" y="310" width="7" height="8" fill="#089981"/>
<rect x="556" y="306" width="1" height="18" fill="#f23645"/>
<rect x="553" y="306" width="7" height="11" fill="#f23645"/>
<rect x="566" y="309" width="1" height="11" fill="#f23645"/>
<rect x="563" y="312" width="7" height="8" fill="#f23645"/>
<rect x="576" y="295" width="1" height="22" fill="#f23645"/>
<rect x="573" y="313" width="7" height="4" fill="#f23645"/>
<rect x="583" y="339" width="7" height="1" fill="#089981"/>
<rect x="592" y="355" width="7" height="1" fill="#089981"/>
<rect x="602" y="377" width="7" height="1" fill="#089981"/>
<rect x="612" y="403" width="7" height="1" fill="#089981"/>
<rect x="625" y="378" width="1" height="29" fill="#089981"/>
<rect x="622" y="389" width="7" height="18" fill="#089981"/>
<rect x="634" y="390" width="1" height="23" fill="#f23645"/>
<rect x="631" y="402" width="7" height="11" fill="#f23645"/>
<rect x="641" y="393" width="7" height="38" fill="#f23645"/>
<rect x="654" y="415" width="1" height="24" fill="#089981"/>
<rect x="651" y="427" width="7" height="12" fill="#089981"/>
<rect x="664" y="419" width="1" height="39" fill="#089981"/>
<rect x="661" y="432" width="7" height="1" fill="#089981"/>
<rect x="674" y="432" width="1" height="23" fill="#f23645"/>
<rect x="671" y="438" width="7" height="15" fill="#f23645"/>
<rect x="683" y="439" width="1" height="22" fill="#f23645"/>
<rect x="680" y="439" width="7" height="17" fill="#f23645"/>
<rect x="693" y="424" width="1" height="41" fill="#089981"/>
<rect x="690" y="424" width="7" height="26" fill="#089981"/>
<rect x="703" y="414" width="1" height="19" fill="#089981"/>
<rect x="700" y="415" width="7" height="7" fill="#089981"/>
<rect x="713" y="396" width="1" height="44" fill="#f23645"/>
<rect x="710" y="414" width="7" height="24" fill="#f23645"/>
<rect x="723" y="421" width="1" height="35" fill="#f23645"/>
<rect x="720" y="421" width="7" height="29" fill="#f23645"/>
<rect x="732" y="437" width="1" height="29" fill="#f23645"/>
<rect x="729" y="445" width="7" height="19" fill="#f23645"/>
<rect x="742" y="451" width="1" height="26" fill="#f23645"/>
<rect x="739" y="461" width="7" height="16" fill="#f23645"/>
<rect x="752" y="475" width="1" height="20" fill="#f23645"/>
<rect x="749" y="476" width="7" height="19" fill="#f23645"/>
<rect x="759" y="498" width="7" height="1" fill="#089981"/>
<rect x="768" y="498" width="7" height="1" fill="#089981"/>
<rect x="781" y="498" width="1" height="3" fill="#089981"/>
<rect x="778" y="500" width="7" height="1" fill="#089981"/>
<rect x="791" y="494" width="1" height="23" fill="#f23645"/>
<rect x="788" y="496" width="7" height="21" fill="#f23645"/>
<rect x="801" y="508" width="1" height="23" fill="#f23645"/>
<rect x="798" y="521" width="7" height="8" fill="#f23645"/>
<rect x="811" y="514" width="1" height="24" fill="#089981"/>
<rect x="808" y="525" width="7" height="4" fill="#089981"/>
<rect x="820" y="508" width="1" height="34" fill="#f23645"/>
<rect x="817" y="508" width="7" height="32" fill="#f23645"/>
<rect x="830" y="496" width="1" height="43" fill="#089981"/>
<rect x="827" y="496" width="7" height="4" fill="#089981"/>
<rect x="840" y="485" width="1" height="23" fill="#f23645"/>
<rect x="837" y="485" width="7" height="13" fill="#f23645"/>
<rect x="850" y="490" width="1" height="40" fill="#f23645"/>
<rect x="847" y="490" width="7" height="21" fill="#f23645"/>
<rect x="859" y="531" width="1" height="5" fill="#f23645"/>
<rect x="856" y="532" width="7" height="4" fill="#f23645"/>
<rect x="866" y="528" width="7" height="13" fill="#f23645"/>
<rect x="876" y="520" width="7" height="26" fill="#089981"/>
<rect x="889" y="507" width="1" height="39" fill="#089981"/>
<rect x="886" y="514" width="7" height="32" fill="#089981"/>
<rect x="899" y="500" width="1" height="37" fill="#f23645"/>
<rect x="896" y="503" width="7" height="34" fill="#f23645"/>
<rect x="905" y="522" width="7" height="27" fill="#089981"/>
<rect x="915" y="511" width="7" height="38" fill="#f23645"/>
<rect x="928" y="541" width="1" height="10" fill="#089981"/>
<rect x="925" y="543" width="7" height="3" fill="#089981"/>
<rect x="935" y="548" width="7" height="6" fill="#f23645"/>
<rect x="948" y="530" width="1" height="30" fill="#089981"/>
<rect x="945" y="559" width="7" height="1" fill="#089981"/>
<rect x="957" y="537" width="1" height="26" fill="#089981"/>
<rect x="954" y="562" width="7" height="1" fill="#089981"/>
<rect x="964" y="584" width="7" height="1" fill="#089981"/>
<rect x="974" y="536" width="7" height="52" fill="#089981"/>
<rect x="987" y="520" width="1" height="23" fill="#089981"/>
<rect x="984" y="520" width="7" height="2" fill="#089981"/>
<rect x="993" y="512" width="7" height="1" fill="#089981"/>
<rect x="1006" y="504" width="1" height="9" fill="#089981"/>
<rect x="1003" y="504" width="7" height="1" fill="#089981"/>
<rect x="1016" y="480" width="1" height="27" fill="#089981"/>
<rect x="1013" y="480" width="7" height="2" fill="#089981"/>
<rect x="1026" y="474" width="1" height="17" fill="#089981"/>
<rect x="1023" y="474" width="7" height="6" fill="#089981"/>
<rect x="1036" y="464" width="1" height="45" fill="#f23645"/>
<rect x="1033" y="464" width="7" height="39" fill="#f23645"/>
<rect x="1045" y="466" width="1" height="48" fill="#f23645"/>
<rect x="1042" y="478" width="7" height="21" fill="#f23645"/>
<rect x="1052" y="470" width="7" height="25" fill="#089981"/>
<rect x="1065" y="446" width="1" height="42" fill="#f23645"/>
<rect x="1062" y="462" width="7" height="23" fill="#f23645"/>
<rect x="1075" y="491" width="1" height="6" fill="#f23645"/>
<rect x="1072" y="493" width="7" height="4" fill="#f23645"/>
<rect x="1084" y="502" width="1" height="3" fill="#089981"/>
<rect x="1081" y="504" width="7" height="1" fill="#089981"/>
<rect x="1091" y="511" width="7" height="1" fill="#089981"/>
<rect x="1104" y="513" width="1" height="2" fill="#089981"/>
<rect x="1101" y="514" width="7" height="1" fill="#089981"/>
<rect x="1114" y="488" width="1" height="46" fill="#089981"/>
<rect x="1111" y="503" width="7" height="12" fill="#089981"/>
<rect x="1124" y="518" width="1" height="20" fill="#f23645"/>
<rect x="1121" y="527" width="7" height="8" fill="#f23645"/>
<rect x="1133" y="533" width="1" height="12" fill="#089981"/>
<rect x="1130" y="544" width="7" height="1" fill="#089981"/>
<rect x="1140" y="512" width="7" height="49" fill="#089981"/>
<rect x="1150" y="502" width="7" height="1" fill="#089981"/>
<rect x="1160" y="476" width="7" height="1" fill="#089981"/>
<rect x="1169" y="468" width="7" height="1" fill="#089981"/>
<rect x="1179" y="442" width="7" height="1" fill="#089981"/>
<rect x="1189" y="417" width="7" height="1" fill="#089981"/>
<rect x="1199" y="392" width="7" height="1" fill="#089981"/>
<rect x="1209" y="368" width="7" height="1" fill="#089981"/>
<rect x="1218" y="345" width="7" height="1" fill="#089981"/>
<rect x="1231" y="320" width="1" height="25" fill="#f23645"/>
<rect x="1228" y="320" width="7" height="10" fill="#f23645"/>
<rect x="1241" y="301" width="1" height="43" fill="#089981"/>
<rect x="1238" y="301" width="7" height="11" fill="#089981"/>
<rect x="1251" y="290" width="1" height="22" fill="#089981"/>
<rect x="1248" y="290" width="7" height="5" fill="#089981"/>
<rect x="1261" y="270" width="1" height="20" fill="#f23645"/>
<rect x="1258" y="272" width="7" height="16" fill="#f23645"/>
<rect x="1270" y="279" width="1" height="24" fill="#f23645"/>
<rect x="1267" y="287" width="7" height="16" fill="#f23645"/>
<rect x="1280" y="313" width="1" height="12" fill="#089981"/>
<rect x="1277" y="323" width="7" height="1" fill="#089981"/>
<rect x="1287" y="296" width="7" height="15" fill="#089981"/>
<rect x="1300" y="274" width="1" height="39" fill="#f23645"/>
<rect x="1297" y="274" width="7" height="37" fill="#f23645"/>
<rect x="1309" y="292" width="1" height="38" fill="#089981"/>
<rect x="1306" y="321" width="7" height="2" fill="#089981"/>
<rect x="1319" y="298" width="1" height="30" fill="#089981"/>
<rect x="1316" y="310" width="7" height="18" fill="#089981"/>
<rect x="1326" y="294" width="7" height="1" fill="#089981"/>
<rect x="1336" y="268" width="7" height="1" fill="#089981"/>
<rect x="1346" y="243" width="7" height="1" fill="#089981"/>
<rect x="1355" y="218" width="7" height="1" fill="#089981"/>
<rect x="1365" y="192" width="7" height="1" fill="#089981"/>
<rect x="1378" y="169" width="1" height="42" fill="#f23645"/>
<rect x="1375" y="169" width="7" height="23" fill="#f23645"/>
<rect x="1388" y="173" width="1" height="34" fill="#f23645"/>
<rect x="1385" y="185" width="7" height="22" fill="#f23645"/>
<rect x="1394" y="172" width="7" height="48" fill="#089981"/>
<rect x="1407" y="161" width="1" height="16" fill="#f23645"/>
<rect x="1404" y="161" width="7" height="5" fill="#f23645"/>
<rect x="1417" y="164" width="1" height="27" fill="#f23645"/>
<rect x="1414" y="174" width="7" height="17" fill="#f23645"/>
<rect x="1427" y="187" width="1" height="25" fill="#089981"/>
<rect x="1424" y="193" width="7" height="17" fill="#089981"/>
<rect x="1434" y="184" width="7" height="49" fill="#f23645"/>
<rect x="1443" y="225" width="7" height="21" fill="#f23645"/>
<rect x="1456" y="219" width="1" height="24" fill="#089981"/>
<rect x="1453" y="220" width="7" height="22" fill="#089981"/>
<rect x="1466" y="203" width="1" height="40" fill="#f23645"/>
<rect x="1463" y="204" width="7" height="37" fill="#f23645"/>
<rect x="1476" y="229" width="1" height="26" fill="#089981"/>
<rect x="1473" y="231" width="7" height="6" fill="#089981"/>
<rect x="1485" y="223" width="1" height="22" fill="#f23645"/>
<rect x="1482" y="223" width="7" height="11" fill="#f23645"/>
<rect x="1495" y="222" width="1" height="25" fill="#089981"/>
<rect x="1492" y="226" width="7" height="13" fill="#089981"/>
<rect x="1505" y="217" width="1" height="31" fill="#f23645"/>
<rect x="1502" y="229" width="7" height="13" fill="#f23645"/>
<rect x="1515" y="217" width="1" height="19" fill="#f23645"/>
<rect x="1512" y="229" width="7" height="7" fill="#f23645"/>
</g>
<line x1="11" y1="235.5" x2="1689" y2="235.5" stroke="#f23645" stroke-width="1" stroke-dasharray="1 2" shape-rendering="crispEdges"/>
<circle cx="654.6" cy="398" r="4.2" fill="#1e90f5" stroke="#1976d2" stroke-width="1"/>
</g>
<rect x="11" y="752" width="1735" height="1" fill="#e0e3eb" shape-rendering="crispEdges"/>
<g font-family="Liberation Sans, Arial, sans-serif" font-size="12" fill="#131722">
<text x="1697" y="35.4">31,000</text>
<text x="1697" y="93.4">29,000</text>
<text x="1697" y="124.4">28,000</text>
<text x="1697" y="155.4">27,000</text>
<text x="1697" y="188.4">26,000</text>
<text x="1697" y="222.4">25,000</text>
<text x="1697" y="258.4">24,000</text>
<text x="1697" y="295.4">23,000</text>
<text x="1697" y="325.4">22,200</text>
<text x="1697" y="357.4">21,400</text>
<text x="1697" y="390.4">20,600</text>
<text x="1697" y="425.4">19,800</text>
<text x="1697" y="460.4">19,000</text>
<text x="1697" y="495.4">18,250</text>
<text x="1697" y="534.4">17,450</text>
<text x="1697" y="565.4">16,850</text>
<text x="1697" y="596.4">16,250</text>
<text x="1697" y="629.4">15,650</text>
<text x="1697" y="663.4">15,050</text>
<text x="1697" y="698.4">14,450</text>
<text x="1697" y="730.4">13,930</text>
</g>
<path d="M1689 119.0 h48 a2 2 0 0 1 2 2 v13 a2 2 0 0 1 -2 2 h-48 z" fill="#2962ff"/>
<text x="1697" y="130.9" font-family="Liberation Sans, Arial, sans-serif" font-size="12" fill="#fff" stroke="#fff" stroke-width="0.3">27,756</text>
<path d="M1689 193.0 h48 a2 2 0 0 1 2 2 v13 a2 2 0 0 1 -2 2 h-48 z" fill="#2962ff"/>
<text x="1697" y="204.9" font-family="Liberation Sans, Arial, sans-serif" font-size="12" fill="#fff" stroke="#fff" stroke-width="0.3">25,331</text>
<path d="M1689 210.0 h48 a2 2 0 0 1 2 2 v13 a2 2 0 0 1 -2 2 h-48 z" fill="#a5d6a7"/>
<text x="1697" y="221.9" font-family="Liberation Sans, Arial, sans-serif" font-size="12" fill="#131722">24,663</text>
<path d="M1689 227.0 h48 a2 2 0 0 1 2 2 v13 a2 2 0 0 1 -2 2 h-48 z" fill="#f23645"/>
<text x="1697" y="238.9" font-family="Liberation Sans, Arial, sans-serif" font-size="12" fill="#fff" stroke="#fff" stroke-width="0.3">24,530</text>
<path d="M1689 244.0 h48 a2 2 0 0 1 2 2 v13 a2 2 0 0 1 -2 2 h-48 z" fill="#2196f3"/>
<text x="1697" y="255.9" font-family="Liberation Sans, Arial, sans-serif" font-size="12" fill="#fff" stroke="#fff" stroke-width="0.3">24,416</text>
<path d="M1689 330.0 h48 a2 2 0 0 1 2 2 v13 a2 2 0 0 1 -2 2 h-48 z" fill="#faa1a4"/>
<text x="1697" y="341.9" font-family="Liberation Sans, Arial, sans-serif" font-size="12" fill="#131722">21,775</text>
<path d="M1689 358.0 h48 a2 2 0 0 1 2 2 v13 a2 2 0 0 1 -2 2 h-48 z" fill="#2962ff"/>
<text x="1697" y="369.9" font-family="Liberation Sans, Arial, sans-serif" font-size="12" fill="#fff" stroke="#fff" stroke-width="0.3">21,082</text>
<path d="M1689 375.0 h48 a2 2 0 0 1 2 2 v13 a2 2 0 0 1 -2 2 h-48 z" fill="#2962ff"/>
<text x="1697" y="386.9" font-family="Liberation Sans, Arial, sans-serif" font-size="12" fill="#fff" stroke="#fff" stroke-width="0.3">20,753</text>
<path d="M1689 734.0 h52 a2 2 0 0 1 2 2 v13 a2 2 0 0 1 -2 2 h-52 z" fill="#f7525f"/>
<text x="1697" y="745.9" font-family="Liberation Sans, Arial, sans-serif" font-size="12" fill="#fff" stroke="#fff" stroke-width="0.3">2.975M</text>
<rect x="10" y="10" width="1737" height="770" fill="none" stroke="#eceef5" stroke-width="2" shape-rendering="crispEdges"/>
<g font-family="Liberation Sans, DejaVu Sans, sans-serif" font-size="12" fill="#131722" text-anchor="middle">
<text class="tl" x="106.5" y="768.7" textLength="39.6" lengthAdjust="spacingAndGlyphs" direction="rtl" unicode-bidi="embed" font-weight="bold">فروردین</text>
<text class="tl" x="194.5" y="768.7" textLength="53.4" lengthAdjust="spacingAndGlyphs" direction="rtl" unicode-bidi="embed">27 فروردین</text>
<text class="tl" x="302.5" y="768.7" textLength="48.8" lengthAdjust="spacingAndGlyphs" direction="rtl" unicode-bidi="embed" font-weight="bold">اردیبهشت</text>
<text class="tl" x="390.5" y="768.7" textLength="64.4" lengthAdjust="spacingAndGlyphs" direction="rtl" unicode-bidi="embed">24 اردیبهشت</text>
<text class="tl" x="507.5" y="768.7" textLength="27.4" lengthAdjust="spacingAndGlyphs" direction="rtl" unicode-bidi="embed" font-weight="bold">خرداد</text>
<text class="tl" x="615.5" y="768.7" textLength="14.0" lengthAdjust="spacingAndGlyphs" direction="rtl" unicode-bidi="embed" font-weight="bold">تیر</text>
<text class="tl" x="781.5" y="768.7" textLength="25.6" lengthAdjust="spacingAndGlyphs" direction="rtl" unicode-bidi="embed" font-weight="bold">مرداد</text>
<text class="tl" x="869.5" y="768.7" textLength="41.0" lengthAdjust="spacingAndGlyphs" direction="rtl" unicode-bidi="embed">22 مرداد</text>
<text class="tl" x="987.5" y="768.7" textLength="33.6" lengthAdjust="spacingAndGlyphs" direction="rtl" unicode-bidi="embed" font-weight="bold">شهریور</text>
<text class="tl" x="1075.5" y="768.7" textLength="49.6" lengthAdjust="spacingAndGlyphs" direction="rtl" unicode-bidi="embed">25 شهریور</text>
<text class="tl" x="1182.5" y="768.7" textLength="16.4" lengthAdjust="spacingAndGlyphs" direction="rtl" unicode-bidi="embed" font-weight="bold">مهر</text>
<text class="tl" x="1270.5" y="768.7" textLength="33.0" lengthAdjust="spacingAndGlyphs" direction="rtl" unicode-bidi="embed">22 مهر</text>
<text class="tl" x="1388.5" y="768.7" textLength="18.6" lengthAdjust="spacingAndGlyphs" direction="rtl" unicode-bidi="embed" font-weight="bold">آبان</text>
<text class="tl" x="1476.5" y="768.7" textLength="34.4" lengthAdjust="spacingAndGlyphs" direction="rtl" unicode-bidi="embed">21 آبان</text>
<text class="tl" x="1603.5" y="768.7" textLength="14.0" lengthAdjust="spacingAndGlyphs" direction="rtl" unicode-bidi="embed" font-weight="bold">آذر</text>
<text class="tl" x="1689" y="768.7" text-anchor="end" textLength="13" lengthAdjust="spacingAndGlyphs">آذر</text>
</g>
</svg>
<span class="lg fa" style="left:18.2px;top:16.8px;color:#131722;transform:scaleX(0.852)">کرماشا, بورس</span>
<span class="lg fa" style="left:87.7px;top:16.8px;color:#131722">باز</span>
<span class="lg " style="left:100.2px;top:16.8px;color:#f23645">24,690</span>
<span class="lg fa" style="left:143.0px;top:16.8px;color:#131722">بیشترین</span>
<span class="lg " style="left:184.0px;top:16.8px;color:#f23645">25,020</span>
<span class="lg fa" style="left:227.0px;top:16.8px;color:#131722">کمترین</span>
<span class="lg " style="left:261.5px;top:16.8px;color:#f23645">24,490</span>
<span class="lg fa" style="left:305.2px;top:16.8px;color:#131722">آخرین</span>
<span class="lg " style="left:334.4px;top:16.8px;color:#f23645">24,530</span>
<span class="lg fa" style="left:18.2px;top:33.9px;color:#131722">حجم</span>
<span class="lg " style="left:50.0px;top:33.9px;color:#f7525f">2.975M</span>
<span class="lg " style="left:18.2px;top:51.0px;color:#131722">MA</span>
<span class="lg " style="left:43.7px;top:51.0px;color:#2196f3">24,416</span>
<span class="lg " style="left:18.2px;top:68.0px;color:#131722">Ichimoku</span>
<span class="lg " style="left:74.7px;top:68.0px;color:#a5d6a7">24,663</span>
<span class="lg " style="left:117.8px;top:68.0px;color:#faa1a4">21,775</span>
</body></html>
